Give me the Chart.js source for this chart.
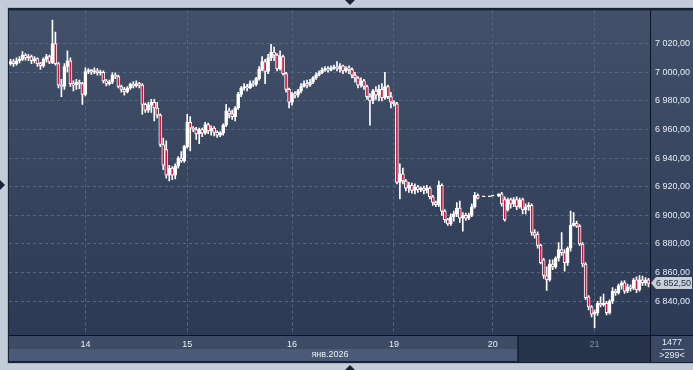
<!DOCTYPE html>
<html><head><meta charset="utf-8">
<script src="https://cdn.jsdelivr.net/npm/chart.js@4.4.1/dist/chart.umd.min.js"></script>
<style>html,body{margin:0;padding:0;background:#c3cdda;overflow:hidden}#wrap{width:693px;height:370px;position:relative}canvas{display:block}</style>
</head><body><div id="wrap"><canvas id="c" width="693" height="370"></canvas></div>
<script>
const openP = [7006,7007.5,7006,7008,7009,7012,7010,7011,7008,7009.5,
7006,7004.5,7009,7011,7006.5,7020,7006,6991,6990,7004,
7008,6992,6991,6993,6992,6984.5,7000.5,7001.5,7000,7001,
6999.5,7000,6994,6992,6993,6998,6997,6990,6988,6986.5,
6989,6991.5,6990.5,6992,6991,6977.5,6973.5,6977,6979,6975,
6970,6949.5,6946,6928,6933,6928,6934.5,6940,6938,6948,
6965,6961,6960,6957,6960,6957.5,6963.5,6959,6961,6958,
6956,6957.5,6963,6973,6971,6969,6975,6984.5,6989,6990,
6989,6992,6991.5,6995.5,7002,7007.5,7000.5,7010,7014,7012,
7002.5,7011,6999,6988,6979,6985,6984,6987,6990,6992,
6991,6993,6996,6998,6999.5,7001.5,7002.5,7001.5,7003,7003.5,
7002.5,7004.5,7001,7003,7002,6998,6996,6991,6994,6990,
6983,6980,6987,6984,6988,6982,6990,6983,6979,6978,
6923,6929,6924,6919,6921,6917.5,6920,6918,6919,6917.5,
6919,6913,6909,6907.5,6921,6903,6897,6894,6899,6901,
6905,6898,6900,6898,6900,6906,6914,null,6913,null,
6913,6913.5,null,6913.5,6915,6911,6904,6911,6908,6911,
6906,6911,6904,6906,6907,6888,6887,6879,6869,6858,
6855,6866,6864,6870,6876,6874,6867,6877,6893,6894.5,
6892.5,6880,6866,6843,6836,6831,6832,6838.5,6837.5,6838.5,
6832,6840,6847,6846,6851,6853,6847,6850,6849,6855,
6848,6855,6853,6855];
const highP = [7009,7009,7010,7011,7014.5,7013,7012.5,7012,7011,7010,
7007,7010,7012.5,7012,7036.5,7028,7007,6995,7006,7015,
7010,6994,6995,6994.5,6993,7003,7002.5,7002,7003,7002.5,
7001.5,7001,6995,6994.5,6999.5,6999.5,6998,6991,6989.5,6990,
6992.5,6993.5,6994,6993,6992,6978.5,6979,6981,6981,6979,
6971,6954,6952,6935,6934,6936,6941,6944.5,6949,6970.5,
6969,6962,6961.5,6961,6961,6965,6964.5,6962.5,6962,6959,
6958.5,6964,6977.5,6975,6973.5,6976,6986,6990,6992,6991.5,
6994,6994,6996.5,7004,7011,7009,7012.5,7019.5,7017.5,7013,
7015,7012,7000,6989,6986,6986.5,6988,6992,6994,6994.5,
6995,6997,6999.5,7001,7003,7004,7004,7004.5,7005,7007.5,
7006,7005,7004,7004.5,7003,7000,6997,6996,6995,6991,
6985,6988,6990,6991,6992,7000,6991,6986,6980,6979,
6936,6933,6925,6923,6922.5,6922,6921,6920,6920.5,6921,
6920,6914,6910,6924,6922,6904,6898,6901,6903,6909,
6910,6902,6901.5,6901.5,6908,6916,6915,null,6913,null,
6913,6913.5,null,6915,6916,6913,6912,6912,6912.5,6913,
6912,6912,6908,6909,6908,6890,6888.5,6880,6870,6864,
6869,6869,6871,6881,6888,6876,6878,6903,6902,6896,
6893.5,6881,6867,6844,6837,6834,6840,6843,6845,6840,
6841,6849.5,6848.5,6852,6854,6854.5,6852,6851.5,6856,6857,
6858,6857.5,6856.5,6856];
const lowP = [7005,7004,7005,7006.5,7008,7008.5,7008,7006,7006.5,7004,
7002,7003.5,7007,7006,7006,7005,6989,6983,6988,7000,
6990,6987,6988,6988.5,6977.5,6983.5,6999,6998.5,6999,6998,
6998,6992.5,6990.5,6991,6992,6995.5,6989,6986,6984,6985.5,
6988,6989,6989.5,6989,6970.5,6972,6972,6972,6966,6968,
6948,6932,6926,6924,6925,6925.5,6933,6937,6937,6947,
6945,6958.5,6953,6950,6955,6956.5,6957,6956,6955.5,6954.5,
6955,6956,6962,6968,6967,6966,6974,6983,6987.5,6987,
6988.5,6990,6990.5,6994.5,7001,6992,6999,7008,7008,7001,
7001.5,6998,6986,6975,6977,6982,6982.5,6985.5,6989.5,6989,
6990,6992,6995,6997.5,6999,7000.5,7000,7001,7002,7001,
7000,6999,7000,6999,6996,6993,6989,6989.5,6988,6981,
6963,6978,6981,6980,6980,6981,6981.5,6975,6976.5,6922,
6911.5,6922,6917,6916,6915.5,6915,6916,6916.5,6915,6915.5,
6911.5,6907,6906,6906,6900,6895,6893,6893,6896,6899,
6895,6889,6896.5,6897,6899,6905,6911.5,null,6913,null,
6913,6913.5,null,6913,6906.5,6896,6903,6905,6906,6904,
6905,6901,6901,6903.5,6886,6884,6877,6866,6856,6847.5,
6854,6862,6863,6868,6872,6861,6865,6875,6892.5,6891.5,
6879,6864,6841,6834,6829,6821.5,6830,6836,6836.5,6830.5,
6831,6838.5,6844,6845,6848.5,6845.5,6846,6847,6848,6846,
6847,6851,6851,6850];
const closeP = [7007.5,7006,7008,7009,7012,7010,7011,7008,7009.5,7006,
7004.5,7009,7011,7007,7020,7006,6991,6990,7004,7008,
6992,6991,6993,6992,6984.5,7000.5,7001.5,7000,7001,6999.5,
7000,6994,6992,6993,6998,6997,6990,6988,6986.5,6989,
6991.5,6990.5,6992,6991,6977.5,6973.5,6977,6979,6975,6970,
6949.5,6935,6928,6933,6928,6934.5,6940,6938,6948,6965,
6961,6960,6957,6960,6957.5,6963.5,6959,6961,6958,6956,
6957.5,6963,6973,6971,6969,6975,6984.5,6989,6990,6989,
6992,6991.5,6995.5,7002,7007.5,7000.5,7010,7014,7012,7002.5,
7011,6999,6988,6979,6985,6984,6987,6990,6992,6991,
6993,6996,6998,6999.5,7001.5,7002.5,7001.5,7003,7003.5,7002.5,
7004.5,7001,7003,7002,6998,6996,6991,6994,6990,6983,
6980,6987,6984,6988,6982,6990,6983,6979,6978,6923,
6929,6924,6919,6921,6917.5,6920,6918,6919,6917.5,6919,
6913,6909,6907.5,6921,6903,6897,6894,6899,6901,6905,
6898,6900,6898,6900,6906,6914,6912,null,6913,null,
6913,6913.5,null,6915,6908,6897,6911,6908,6911,6906,
6910.5,6904,6906,6907,6888,6886,6879,6867,6858,6855,
6866,6864,6870,6876,6874,6867,6877,6893,6894.5,6892.5,
6880,6866,6842.5,6836,6831,6832.5,6838.5,6837.5,6838.5,6832,
6840,6847,6846,6851,6852.5,6847,6850,6849,6855,6848,
6855,6853,6855,6852.5];

const dayLabels = ['14','15','16','19','20','21'];
const dayIndex = [25,59,94,128,161,195];
const priceTicks = [6840,6860,6880,6900,6920,6940,6960,6980,7000,7020];
const monthLabel = 'янв.2026';
const totalBars = '1477';
const visibleBars = '>299<';

function fmt(v){
  const s = v.toFixed(2).split('.');
  return s[0].replace(/\B(?=(\d{3})+(?!\d))/g,' ') + ',' + s[1];
}
const FONT = 'Liberation Sans, Arial, sans-serif';
const cats = closeP.map((_, i) => String(i));
const bodyData = closeP.map((c,i) => c == null ? null : [openP[i], c]);
const wickData = closeP.map((c,i) => c == null ? null : [lowP[i], highP[i]]);
const bodyColors = closeP.map((c,i) => (c != null && c < openP[i]) ? '#d3113d' : '#ffffff');
let lastClose = null;
for (let i = closeP.length-1; i >= 0; i--) { if (closeP[i] != null) { lastClose = closeP[i]; break; } }

const decor = {
  id: 'decor',
  beforeDraw(chart){
    const c = chart.ctx, a = chart.chartArea;
    c.save();
    c.fillStyle = '#c3cdda'; c.fillRect(0,0,693,370);
    c.fillStyle = '#a9b5c6'; c.fillRect(7,7,686,357);
    c.fillStyle = '#1a2336'; c.fillRect(8,8,685,355);
    let g = c.createLinearGradient(0,a.top,0,a.bottom);
    g.addColorStop(0,'#425069'); g.addColorStop(1,'#2c3a55');
    c.fillStyle = g; c.fillRect(a.left,a.top,a.right-a.left,a.bottom-a.top);
    c.fillRect(a.right+1,a.top,693-a.right-1,a.bottom-a.top);
    c.fillStyle = '#3d4b65'; c.fillRect(a.left,a.bottom+1,509,13);
    c.fillStyle = '#4b5b77'; c.fillRect(a.left,a.bottom+14,509,12);
    c.fillStyle = '#27334a'; c.fillRect(a.left+510,a.bottom+1,a.right-a.left-510,26);
    c.fillStyle = '#3a4863'; c.fillRect(a.right+1,a.bottom+1,693-a.right-1,26);
    c.restore();
  },
  afterDraw(chart){
    const c = chart.ctx, a = chart.chartArea, y = chart.scales.y;
    c.save();
    c.fillStyle = '#0d1220';
    c.fillRect(a.right,a.top,1,362-a.top);
    c.fillRect(a.left,a.bottom,693-a.left,1);
    c.fillStyle = '#1f2a3e'; c.fillRect(a.left+508,a.bottom+1,1,26);
    // month label
    c.font = '9px ' + FONT; c.fillStyle = '#e6edf5';
    c.textAlign = 'center'; c.textBaseline = 'middle';
    c.fillText(monthLabel, 330, 355);
    // bar counts
    c.fillText(totalBars, 672, 343);
    c.fillText(visibleBars, 672, 356);
    c.fillStyle = '#b8c2d0'; c.fillRect(662,349,22,1);
    // price tag
    if (lastClose != null) {
      const py = Math.round(y.getPixelForValue(lastClose));
      c.fillStyle = '#c9d0da';
      c.beginPath();
      c.moveTo(a.right+1, py);
      c.lineTo(a.right+6, py-6);
      c.lineTo(692, py-6);
      c.lineTo(692, py+6);
      c.lineTo(a.right+6, py+6);
      c.closePath(); c.fill();
      c.fillStyle = '#1c2a40'; c.textAlign = 'left';
      c.fillText(fmt(lastClose), 656, py+0.5);
    }
    // triangles
    c.fillStyle = '#1c2538';
    c.beginPath(); c.moveTo(345,0); c.lineTo(355,0); c.lineTo(350,5); c.closePath(); c.fill();
    c.beginPath(); c.moveTo(345,370); c.lineTo(355,370); c.lineTo(350,365); c.closePath(); c.fill();
    c.beginPath(); c.moveTo(0,180); c.lineTo(0,190); c.lineTo(5,185); c.closePath(); c.fill();
    c.restore();
  }
};

new Chart(document.getElementById('c'), {
  type: 'bar',
  data: { labels: cats, datasets: [
    { data: bodyData, backgroundColor: bodyColors, borderColor: '#ffffff', borderWidth: 1,
      borderSkipped: false, barThickness: 3, minBarLength: 1, grouped: false },
    { data: wickData, backgroundColor: '#ffffff', borderWidth: 0, barThickness: 1, grouped: false }
  ]},
  options: {
    responsive: false, animation: false, devicePixelRatio: 1,
    layout: { padding: { left: 9, top: 9, right: 0, bottom: 0 } },
    plugins: { legend: { display: false }, tooltip: { enabled: false } },
    scales: {
      x: {
        offset: true,
        grid: { offset: false, color: '#58677f', lineWidth: 1, drawTicks: false },
        border: { display: false, dash: [3,3] },
        afterBuildTicks: s => { s.ticks = dayIndex.map(v => ({ value: v })); },
        ticks: { autoSkip: false, maxRotation: 0, padding: 4,
          color: ctx => ctx.index === 5 ? '#8391a8' : '#e6edf5',
          font: { family: FONT, size: 9 },
          callback: (v, i) => dayLabels[i] },
        afterFit: s => { s.height = 35; }
      },
      y: {
        position: 'right', min: 6816.4, max: 7043.2,
        afterBuildTicks: s => { s.ticks = priceTicks.map(v => ({ value: v })); },
        grid: { color: '#58677f', lineWidth: 1, drawTicks: false },
        border: { display: false, dash: [3,3] },
        ticks: { padding: 5, color: '#e6edf5', font: { family: FONT, size: 9 }, callback: v => fmt(v) },
        afterFit: s => { s.width = 43; }
      }
    }
  },
  plugins: [decor]
});
</script>
</body></html>
